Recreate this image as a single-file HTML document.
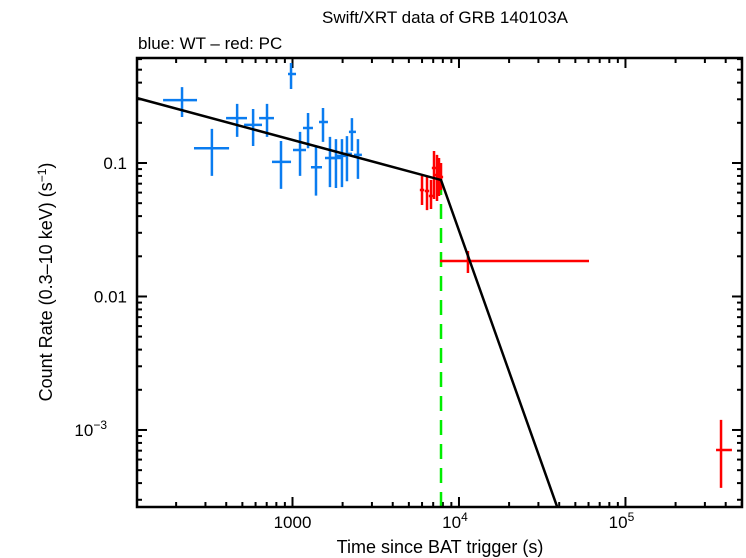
<!DOCTYPE html>
<html><head><meta charset="utf-8"><style>
html,body{margin:0;padding:0;background:#fff;}
svg{display:block;font-family:"Liberation Sans",Arial,sans-serif;}
</style></head><body>
<svg id="chart" width="746" height="558" viewBox="0 0 746 558" xmlns="http://www.w3.org/2000/svg">
<text x="445" y="23" font-size="17" text-anchor="middle">Swift/XRT data of GRB 140103A</text>
<text x="138" y="49" font-size="17">blue: WT – red: PC</text>
<text x="440" y="553" font-size="18" text-anchor="middle">Time since BAT trigger (s)</text>
<text transform="translate(52,282) rotate(-90)" font-size="18" text-anchor="middle">Count Rate (0.3–10 keV) (s<tspan dy="-6" font-size="12">−1</tspan><tspan dy="6">)</tspan></text>
<g id="marks"></g>
</svg>
<script>
// WT (blue) data
const wtT   = [217,328,465,580,703,980,853,1110,1240,1384,1525,1679,1824,1982,2124,2275,2473];
const wtTlo = [167,256,399,512,630,940,753,1007,1156,1291,1443,1567,1702,1849,1982,2183,2339];
const wtThi = [267,416,533,656,774,1050,980,1205,1327,1504,1633,1799,1955,2124,2275,2405,2612];
const wtR   = [0.296,0.129,0.217,0.193,0.217,0.464,0.102,0.125,0.183,0.093,0.203,0.109,0.109,0.113,0.117,0.171,0.115];
const wtRlo = [0.221,0.080,0.157,0.134,0.157,0.358,0.064,0.080,0.129,0.057,0.144,0.066,0.065,0.066,0.073,0.123,0.076];
const wtRhi = [0.370,0.180,0.277,0.254,0.277,0.561,0.146,0.171,0.237,0.132,0.258,0.157,0.151,0.151,0.159,0.217,0.151];
// PC (red) data
const pcT   = [5998,6427,6792,7080,7380,7586,7800,11320,375000];
const pcTlo = [5820,6230,6590,6870,7160,7360,7570,7690,350000];
const pcThi = [6180,6620,6990,7290,7600,7810,8030,60400,436000];
const pcR   = [0.0628,0.0617,0.0566,0.0918,0.0813,0.0966,0.0786,0.01846,0.000708];
const pcRlo = [0.0484,0.0444,0.0452,0.0537,0.0519,0.0566,0.0628,0.0150,0.000368];
const pcRhi = [0.080,0.080,0.0746,0.123,0.115,0.109,0.1,0.0219,0.00119];
// broken power-law model
const modelBreakT = 7800;
const modelBreakR = 0.0746;
const modelAlpha1 = 0.336;
const modelAlpha2 = 3.51;
const modelTStart = 116;
const modelTEnd = 38800;
const xTickVals = [1000,10000,100000];
const xTickLabels = ["1000","10","10"];
const xTickExp = ["","4","5"];
const yTickVals = [0.1,0.01,0.001];
const yTickLabels = ["0.1","0.01","10"];
const yTickExp = ["","","−3"];

const L=137,R=742,T=58,B=507;
const lxMin=2.066,lxMax=5.7,lyMin=-3.577,lyMax=-0.2135;
function X(t){return L+(Math.log10(t)-lxMin)/(lxMax-lxMin)*(R-L);}
function Y(r){return B-(Math.log10(r)-lyMin)/(lyMax-lyMin)*(B-T);}
const NS="http://www.w3.org/2000/svg";
const g=document.getElementById('marks');
function el(tag,attrs,parent){const e=document.createElementNS(NS,tag);for(const k in attrs)e.setAttribute(k,attrs[k]);(parent||g).appendChild(e);return e;}

// ticks
const axes=el('g',{});


for(let d=2;d<=5;d++){for(let m=1;m<10;m++){const v=m*Math.pow(10,d);const x=X(v);if(x<L||x>R)continue;const len=m===1?10:5;
 el('line',{x1:x,x2:x,y1:B,y2:B-len,stroke:'#000','stroke-width':2},axes);
 el('line',{x1:x,x2:x,y1:T,y2:T+len,stroke:'#000','stroke-width':2},axes);}}
for(let d=-4;d<=0;d++){for(let m=1;m<10;m++){const v=m*Math.pow(10,d);const y=Y(v);if(y<T||y>B)continue;const len=m===1?10:5;
 el('line',{x1:L,x2:L+len,y1:y,y2:y,stroke:'#000','stroke-width':2},axes);
 el('line',{x1:R,x2:R-len,y1:y,y2:y,stroke:'#000','stroke-width':2},axes);}}
xTickVals.forEach((v,i)=>{const t=el('text',{x:X(v)-(xTickExp[i]?4:0),y:528,'font-size':17,'text-anchor':'middle'},axes);
 
 
 t.textContent=xTickLabels[i];
 if(xTickExp[i]){const s=el('tspan',{dy:-7,'font-size':12},t);s.textContent=xTickExp[i];}});
yTickVals.forEach((v,i)=>{const t=el('text',{x:yTickExp[i]?107:127,y:Y(v)+6,'font-size':17,'text-anchor':'end'},axes);
 
 
 t.textContent=yTickLabels[i];
 if(yTickExp[i]){const s=el('tspan',{dy:-7,'font-size':12},t);s.textContent=yTickExp[i];}});

// green break line
const gl=el('line',{x1:X(modelBreakT),x2:X(modelBreakT),y1:Y(modelBreakR),y2:B,stroke:'#00ee00','stroke-width':2.5,'stroke-dasharray':'15,9'});



function series(T0,Tl,Th,R0,Rl,Rh,col,name){
 const sg=el('g',{});
 
 
 for(let i=0;i<T0.length;i++){
  const p=el('path',{d:`M${X(Tl[i])},${Y(R0[i])}H${X(Th[i])}M${X(T0[i])},${Y(Rl[i])}V${Y(Rh[i])}`,stroke:col,'stroke-width':2.5,fill:'none'},sg);
  
  
 }
}
series(wtT,wtTlo,wtThi,wtR,wtRlo,wtRhi,'#0a7cf0','wt-series');
series(pcT,pcTlo,pcThi,pcR,pcRlo,pcRhi,'#ff0000','pc-series');

// model
function model(t){return t<modelBreakT?modelBreakR*Math.pow(t/modelBreakT,-modelAlpha1):modelBreakR*Math.pow(t/modelBreakT,-modelAlpha2);}
const ml=el('path',{d:`M${X(modelTStart)},${Y(model(modelTStart))}L${X(modelBreakT)},${Y(modelBreakR)}L${X(modelTEnd)},${Y(model(modelTEnd))}`,stroke:'#000','stroke-width':2.5,fill:'none'});



const fr=el('rect',{x:L,y:T,width:R-L,height:B-T,fill:'none',stroke:'#000','stroke-width':2.5});


</script>
</body></html>
